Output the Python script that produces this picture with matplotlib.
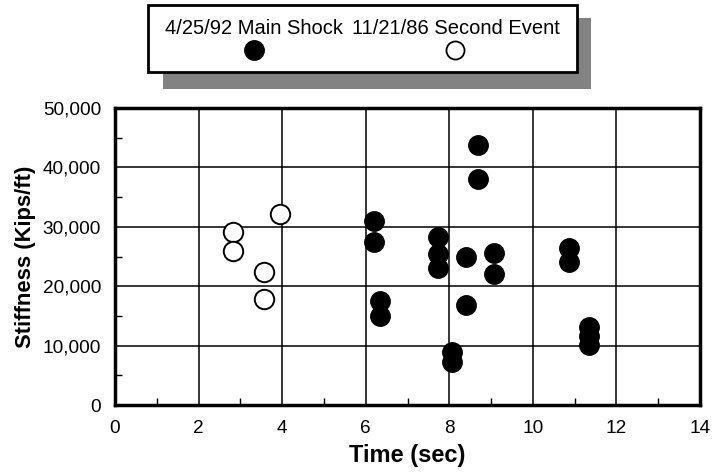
import matplotlib
matplotlib.use("Agg")
import matplotlib.pyplot as plt
from matplotlib.patches import Rectangle
from matplotlib.lines import Line2D
from matplotlib.ticker import MultipleLocator, FuncFormatter

plt.rcParams['font.family'] = ['Liberation Sans', 'DejaVu Sans']

# Data: 4/25/92 Main Shock (filled) and 11/21/86 Second Event (open)
main_time = [6.20, 6.20, 6.34, 6.34, 7.73, 7.73, 7.73, 8.07, 8.07, 8.40, 8.40,
             8.68, 8.68, 9.07, 9.07, 10.86, 10.86, 11.35, 11.35, 11.35]
main_stiff = [31000, 27400, 17500, 14900, 28300, 25500, 23000, 8900, 7200, 24900, 16900,
              43700, 38000, 25600, 22000, 26500, 24000, 13200, 11600, 10100]
second_time = [2.82, 2.82, 3.56, 3.56, 3.96]
second_stiff = [29200, 25900, 22400, 17800, 32200]

legend_labels = ["4/25/92 Main Shock", "11/21/86 Second Event"]
xlabel = "Time (sec)"
ylabel = "Stiffness (Kips/ft)"

W, H = 713, 472
fig = plt.figure(figsize=(W / 100, H / 100), dpi=100)
ax = fig.add_axes([115 / W, 1 - 405 / H, 585 / W, 297 / H])

ms = 14
ax.plot(main_time, main_stiff, 'o', color='black', markersize=ms, zorder=3,
        clip_on=False)
ax.plot(second_time, second_stiff, 'o', markerfacecolor='white', markeredgecolor='black',
        markeredgewidth=1.4, markersize=ms, zorder=3, clip_on=False)

ax.set_xlim(0, 14)
ax.set_ylim(0, 50000)
ax.xaxis.set_major_locator(MultipleLocator(2))
ax.xaxis.set_minor_locator(MultipleLocator(1))
ax.yaxis.set_major_locator(MultipleLocator(10000))
ax.yaxis.set_minor_locator(MultipleLocator(5000))
ax.yaxis.set_major_formatter(FuncFormatter(lambda v, p: f"{int(v):,}"))
ax.grid(True, which='major', color='black', linewidth=1.1)
ax.set_axisbelow(True)
ax.tick_params(which='major', direction='in', length=0, labelsize=13.7)
ax.tick_params(axis='x', which='major', pad=11)
ax.tick_params(axis='y', which='major', pad=10)
ax.tick_params(which='minor', direction='in', length=5, width=1)
for s in ax.spines.values():
    s.set_linewidth(2.5)
ax.set_xlabel(xlabel, fontsize=17, fontweight='bold', labelpad=5)
ax.set_ylabel(ylabel, fontsize=15.8, fontweight='bold', labelpad=5)

# Legend box with shadow
shadow = Rectangle((163 / W, 1 - 89 / H), (591 - 163) / W, (89 - 18) / H,
                   transform=fig.transFigure, facecolor='#828282', edgecolor='none',
                   zorder=1)
box = Rectangle((148 / W, 1 - 72 / H), (577 - 148) / W, (72 - 5) / H,
                transform=fig.transFigure, facecolor='white', edgecolor='black',
                linewidth=2, zorder=2)
fig.patches.extend([shadow, box])
fig.text(254 / W, 1 - 28 / H, legend_labels[0], ha='center', va='center',
         fontsize=14.5, zorder=3)
fig.text(456 / W, 1 - 28 / H, legend_labels[1], ha='center', va='center',
         fontsize=14.5, zorder=3)
fig.lines.append(Line2D([254 / W], [1 - 50 / H], transform=fig.transFigure, marker='o',
                        color='black', markersize=14, linestyle='none', zorder=3))
fig.lines.append(Line2D([455 / W], [1 - 50 / H], transform=fig.transFigure, marker='o',
                        markerfacecolor='white', markeredgecolor='black',
                        markeredgewidth=1.3, markersize=13, linestyle='none', zorder=3))

fig.savefig("out.png", dpi=100)
